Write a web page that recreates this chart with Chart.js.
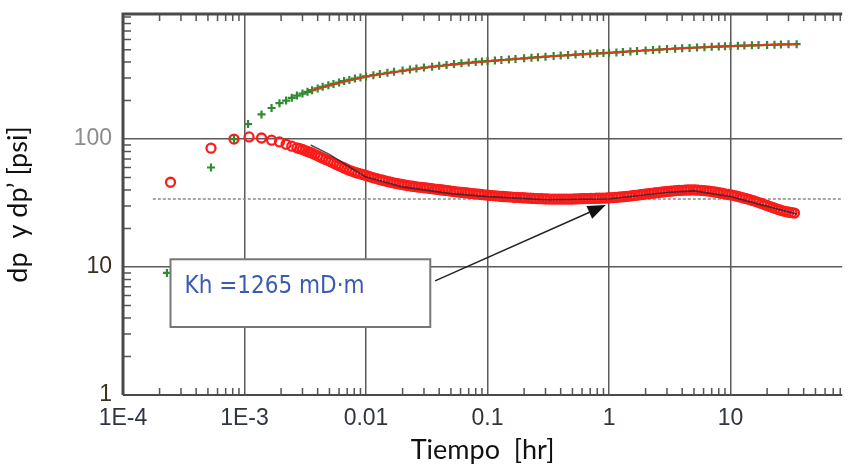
<!DOCTYPE html>
<html>
<head>
<meta charset="utf-8">
<script src="https://cdn.jsdelivr.net/npm/chart.js@4.4.1/dist/chart.umd.min.js"></script>
<style>
  body { margin: 0; background: #fff; }
  canvas { display: block; }
</style>
</head>
<body>
<canvas id="derivChart" width="849" height="466"></canvas>
<script>
// ejes
const xTickVals = [1e-4, 1e-3, 0.01, 0.1, 1, 10];
const xTickLabels = ['1E-4', '1E-3', '0.01', '0.1', '1', '10'];
const yTickVals = [1, 10, 100];
const yTickLabels = ['1', '10', '100'];

// presión dp (cruces verdes)
const pressTime = [2.3e-4, 5.3e-4, 8.2e-4, 1.07e-3, 1.38e-3, 1.67e-3, 1.94e-3, 2.2e-3, 2.45e-3, 2.7e-3,
  3.0e-3, 3.3e-3, 3.6e-3, 4.0e-3, 4.4e-3, 4.9e-3, 5.4e-3, 6.0e-3, 6.6e-3, 7.3e-3, 8.1e-3, 9.0e-3,
  0.01, 0.0115, 0.013, 0.015, 0.017, 0.02, 0.023, 0.026, 0.03, 0.035, 0.04, 0.046, 0.053, 0.061,
  0.07, 0.08, 0.09, 0.1, 0.115, 0.13, 0.15, 0.17, 0.2, 0.23, 0.26, 0.3, 0.35, 0.4, 0.46, 0.53,
  0.61, 0.7, 0.8, 0.9, 1.0, 1.15, 1.3, 1.5, 1.7, 2.0, 2.3, 2.6, 3.0, 3.5, 4.0, 4.6, 5.3, 6.1,
  7, 8, 9, 10, 11.5, 13, 15, 17, 20, 23, 26, 30, 35];
const pressVals = [9, 60, 100, 131, 156, 175, 191, 200, 210, 219,
  227, 234, 241, 249, 256, 263, 270, 277, 284, 290, 297, 303,
  309, 316, 323, 330, 336, 343, 350, 356, 362, 368, 374, 380, 386, 392,
  397, 401, 404, 407, 411, 415, 419, 423, 428, 433, 437, 441, 446, 450, 454, 458,
  462, 465, 468, 470, 472, 476, 480, 484, 488, 493, 497, 501, 505, 509, 513, 516, 520, 523,
  526, 529, 531, 533, 536, 538, 541, 543, 545, 547, 549, 551, 552];

// derivada dp' (círculos rojos)
const derivTime = [2.46e-4, 5.3e-4, 8.2e-4, 1.09e-3, 1.38e-3, 1.67e-3, 1.94e-3, 2.2e-3, 2.45e-3, 2.7e-3,
  3.0e-3, 3.3e-3, 3.6e-3, 4.0e-3, 4.4e-3, 4.9e-3, 5.4e-3, 6.0e-3, 6.6e-3, 7.3e-3, 8.1e-3, 9.0e-3,
  0.01, 0.011, 0.0123, 0.0137, 0.0152, 0.0168, 0.0187, 0.0207, 0.023, 0.0255, 0.0283, 0.0314,
  0.0348, 0.0386, 0.0428, 0.0475, 0.0527, 0.0585, 0.065, 0.072, 0.08, 0.089, 0.099, 0.11, 0.122,
  0.135, 0.15, 0.166, 0.185, 0.205, 0.227, 0.252, 0.28, 0.31, 0.345, 0.383, 0.425, 0.47, 0.52,
  0.58, 0.64, 0.71, 0.79, 0.88, 0.97, 1.08, 1.2, 1.33, 1.48, 1.64, 1.82, 2.02, 2.24, 2.49, 2.76,
  3.06, 3.4, 3.77, 4.19, 4.65, 5.16, 5.72, 6.35, 7.05, 7.82, 8.68, 9.63, 10.7, 11.9, 13.2, 14.6,
  16.2, 18.0, 20.0, 22.2, 24.6, 27.3, 30.3, 33.6];
const derivVals = [46, 85, 100, 104, 102, 98, 95, 91, 88, 85.5,
  83, 80, 77.5, 74, 71, 68, 65, 62, 59.5, 57, 55, 53.5,
  52, 50.5, 49, 47.7, 46.5, 45.5, 44.6, 43.8, 43.1, 42.5, 42, 41.5,
  41, 40.5, 40, 39.5, 39, 38.5, 38.1, 37.7, 37.3, 36.9, 36.5, 36.2, 35.9,
  35.6, 35.4, 35.1, 34.9, 34.7, 34.5, 34.3, 34.2, 34.1, 34.0, 34.0, 34.0, 34.0, 34.1,
  34.2, 34.3, 34.4, 34.5, 34.6, 34.7, 34.9, 35.2, 35.5, 35.9, 36.3, 36.8, 37.3, 37.7, 38.1, 38.6,
  39.0, 39.4, 39.7, 39.9, 40.0, 40.0, 39.8, 39.4, 38.9, 38.3, 37.6, 36.9, 36.2, 35.3, 34.4, 33.5,
  32.5, 31.4, 30.3, 29.2, 28.2, 27.4, 26.8, 26.4];

// registros intermedios de la derivada (zona densa)
const derivTime2 = [2.85e-3, 3.15e-3, 3.45e-3, 3.8e-3, 4.2e-3, 4.65e-3, 5.15e-3, 5.7e-3, 6.3e-3, 6.95e-3,
  7.7e-3, 8.55e-3, 9.5e-3, 0.0105, 0.0116, 0.013, 0.0144, 0.016, 0.0177, 0.0197, 0.0218, 0.0242,
  0.0269, 0.0298, 0.0331, 0.0367, 0.0407, 0.0451, 0.05, 0.0555, 0.0617, 0.0684, 0.0759, 0.0844,
  0.0939, 0.104, 0.116, 0.128, 0.142, 0.158, 0.175, 0.195, 0.216, 0.239, 0.266, 0.295, 0.327,
  0.363, 0.403, 0.447, 0.494, 0.55, 0.61, 0.674, 0.75, 0.834, 0.924, 1.02, 1.14, 1.26, 1.4, 1.56,
  1.73, 1.92, 2.13, 2.36, 2.62, 2.91, 3.23, 3.58, 3.97, 4.42, 4.9, 5.43, 6.03, 6.69, 7.43, 8.24,
  9.14, 10.15, 11.3, 12.5, 13.9, 15.4, 17.1, 19.0, 21.1, 23.4, 25.9, 28.8, 32.0];
const derivVals2 = [84.2, 81.4, 78.8, 75.7, 72.4, 69.4, 66.4, 63.4, 60.7, 58.2,
  56.0, 54.2, 52.7, 51.2, 49.7, 48.3, 47.1, 46.0, 45.0, 44.2, 43.4, 42.8,
  42.2, 41.7, 41.2, 40.7, 40.2, 39.7, 39.2, 38.7, 38.3, 37.9, 37.5, 37.1,
  36.7, 36.3, 36.0, 35.7, 35.5, 35.2, 35.0, 34.8, 34.6, 34.4, 34.2, 34.1, 34.0,
  34.0, 34.0, 34.0, 34.0, 34.1, 34.2, 34.3, 34.4, 34.5, 34.6, 34.8, 35.0, 35.3, 35.7, 36.1,
  36.5, 37.0, 37.5, 37.9, 38.4, 38.8, 39.2, 39.6, 39.8, 40.0, 40.1, 39.9, 39.6, 39.2, 38.6, 37.9,
  37.2, 36.6, 35.8, 34.9, 34.0, 33.0, 31.9, 30.8, 29.7, 28.7, 27.8, 27.1, 26.6];

// modelo ajustado
const modelPressTime = [3.5e-3, 0.006, 0.01, 0.03, 0.1, 0.3, 1, 3, 10, 36];
const modelPressVals = [240, 275, 308, 361, 406, 441, 472, 505, 533, 552];
const modelDerivTime = [3.5e-3, 5e-3, 7e-3, 0.01, 0.02, 0.05, 0.1, 0.3, 1, 3, 5, 10, 20, 35];
const modelDerivVals = [90, 76, 62, 50.5, 42.3, 37.5, 35.5, 33.6, 34.0, 38.2, 39.4, 35.6, 29.8, 26];

// línea de estabilización radial
const khLevel = 34;
const khFrom = 1.76e-4;
const khTo = 83;
const khText = 'Kh =1265 mD\u00b7m';

const pts = (xs, ys) => xs.map((x, i) => ({ x: x, y: ys[i] }));

// marcas menores, marco, recuadro y flecha
const decorPlugin = {
  id: 'decor',
  beforeDatasetsDraw(chart) {
    const { ctx, chartArea: a, scales: { x, y } } = chart;
    ctx.save();
    ctx.strokeStyle = '#555';
    ctx.lineWidth = 1.5;
    ctx.beginPath();
    for (let d = -4; d <= 1; d++) {
      for (let m = 2; m <= 9; m++) {
        const v = m * Math.pow(10, d);
        if (v > x.max) break;
        const px = x.getPixelForValue(v);
        ctx.moveTo(px, a.bottom); ctx.lineTo(px, a.bottom - 7);
        ctx.moveTo(px, a.top); ctx.lineTo(px, a.top + 7);
      }
    }
    for (let d = 0; d <= 2; d++) {
      for (let m = 2; m <= 9; m++) {
        const v = m * Math.pow(10, d);
        if (v > y.max) break;
        const py = y.getPixelForValue(v);
        ctx.moveTo(a.left, py); ctx.lineTo(a.left + 8, py);
      }
    }
    ctx.stroke();
    ctx.strokeStyle = '#4a4a4a';
    ctx.lineWidth = 3;
    ctx.beginPath();
    ctx.moveTo(a.left, a.bottom); ctx.lineTo(a.left, a.top); ctx.lineTo(a.right, a.top);
    ctx.stroke();
    ctx.lineWidth = 2;
    ctx.beginPath();
    ctx.moveTo(a.left, a.bottom); ctx.lineTo(a.right, a.bottom);
    ctx.stroke();
    ctx.restore();
  },
  afterDatasetsDraw(chart) {
    const { ctx, scales: { x, y } } = chart;
    ctx.save();
    // flecha
    const x0 = x.getPixelForValue(0.037), y0 = y.getPixelForValue(7.8);
    const x1 = x.getPixelForValue(0.94), y1 = y.getPixelForValue(30.5);
    const ang = Math.atan2(y1 - y0, x1 - x0);
    ctx.strokeStyle = '#222';
    ctx.fillStyle = '#111';
    ctx.lineWidth = 1.5;
    ctx.beginPath();
    ctx.moveTo(x0, y0);
    ctx.lineTo(x1 - 14 * Math.cos(ang), y1 - 14 * Math.sin(ang));
    ctx.stroke();
    ctx.beginPath();
    ctx.moveTo(x1, y1);
    ctx.lineTo(x1 - 18 * Math.cos(ang) + 7 * Math.sin(ang), y1 - 18 * Math.sin(ang) - 7 * Math.cos(ang));
    ctx.lineTo(x1 - 18 * Math.cos(ang) - 7 * Math.sin(ang), y1 - 18 * Math.sin(ang) + 7 * Math.cos(ang));
    ctx.closePath();
    ctx.fill();
    // recuadro
    const bl = x.getPixelForValue(2.46e-4), br = x.getPixelForValue(0.0338);
    const bt = y.getPixelForValue(11.5), bb = y.getPixelForValue(3.4);
    ctx.fillStyle = '#fff';
    ctx.fillRect(bl, bt, br - bl, bb - bt);
    ctx.strokeStyle = '#777';
    ctx.lineWidth = 2;
    ctx.strokeRect(bl, bt, br - bl, bb - bt);
    ctx.fillStyle = '#3a5cb0';
    ctx.font = '24px "DejaVu Sans Condensed", "DejaVu Sans", sans-serif';
    ctx.textBaseline = 'middle';
    ctx.fillText(khText, bl + 14, bt + 27);
    ctx.restore();
  }
};

new Chart(document.getElementById('derivChart'), {
  type: 'scatter',
  data: {
    datasets: [
      {
        label: 'Kh',
        data: [{ x: khFrom, y: khLevel }, { x: khTo, y: khLevel }],
        showLine: true,
        borderColor: '#8a8a8a',
        borderWidth: 1.5,
        borderDash: [3, 2],
        pointRadius: 0,
        order: 5
      },
      {
        label: 'modelo dp',
        data: pts(modelPressTime, modelPressVals),
        showLine: true,
        borderColor: '#d83a20',
        borderWidth: 2,
        pointRadius: 0,
        order: 1
      },
      {
        label: 'dp',
        data: pts(pressTime, pressVals),
        pointStyle: 'cross',
        pointRadius: 4,
        borderColor: '#2e8b2e',
        borderWidth: 2.2,
        order: 2
      },
      {
        label: "dp'",
        data: pts(derivTime, derivVals).concat(pts(derivTime2, derivVals2)),
        pointStyle: 'circle',
        pointRadius: 4.5,
        backgroundColor: 'transparent',
        borderColor: '#ff1a1a',
        borderWidth: 2.3,
        order: 3
      },
      {
        label: "modelo dp'",
        data: pts(modelDerivTime, modelDerivVals),
        showLine: true,
        borderColor: 'rgba(40,40,40,0.8)',
        borderWidth: 1.6,
        pointRadius: 0,
        order: 0
      }
    ]
  },
  options: {
    responsive: false,
    animation: false,
    events: [],
    layout: { padding: { top: 14, right: 0, left: 0, bottom: 0 } },
    plugins: {
      legend: { display: false },
      tooltip: { enabled: false }
    },
    scales: {
      x: {
        type: 'logarithmic',
        min: 1e-4,
        max: 83,
        afterBuildTicks: (s) => { s.ticks = xTickVals.map(v => ({ value: v })); },
        afterFit: (s) => { s.height = 71; s.paddingLeft = 0; s.paddingRight = 0; },
        border: { display: false },
        grid: { color: '#5a5a5a', lineWidth: 1.5, drawTicks: false },
        ticks: {
          padding: 10,
          autoSkip: false,
          maxRotation: 0,
          color: '#2e3440',
          font: { family: 'Liberation Sans', size: 23 },
          callback: (v) => xTickLabels[xTickVals.indexOf(v)] || ''
        },
        title: {
          display: true,
          text: 'Tiempo  [hr]',
          color: '#111',
          font: { family: 'Lato', size: 27 },
          padding: { top: 0, bottom: 0 }
        }
      },
      y: {
        type: 'logarithmic',
        min: 1,
        max: 950,
        afterBuildTicks: (s) => { s.ticks = yTickVals.map(v => ({ value: v })); },
        afterFit: (s) => { s.width = 123; s.paddingTop = 0; s.paddingBottom = 0; },
        border: { display: false },
        grid: { color: '#5a5a5a', lineWidth: 1.5, drawTicks: false },
        ticks: {
          padding: 11,
          autoSkip: false,
          color: (c) => c.tick && c.tick.value === 100 ? '#8c8c8c' : '#3a3020',
          font: { family: 'Liberation Sans', size: 23 },
          callback: (v) => yTickLabels[yTickVals.indexOf(v)] || ''
        },
        title: {
          display: true,
          text: 'dp  y dp\u2019 [psi]',
          color: '#111',
          font: { family: 'Lato', size: 27 },
          padding: { top: 2, bottom: 0 }
        }
      }
    }
  },
  plugins: [decorPlugin]
});
</script>
</body>
</html>
